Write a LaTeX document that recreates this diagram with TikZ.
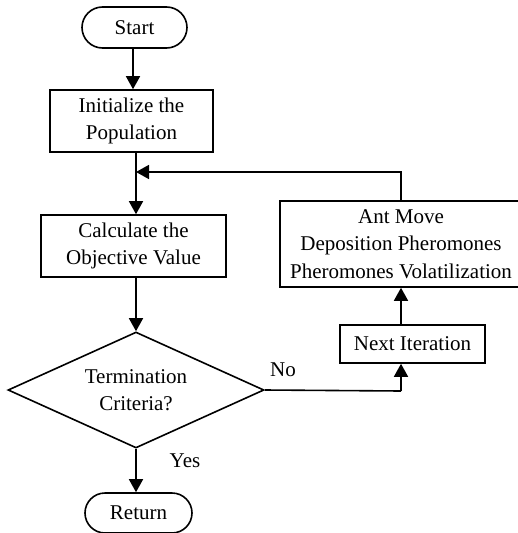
\documentclass[tikz,border=0pt]{standalone}
\usepackage{fontspec}
\setmainfont{Liberation Serif}
\usetikzlibrary{shapes.geometric,shapes.misc,arrows.meta}
\begin{document}
\begin{tikzpicture}[x=1pt,y=-1pt,
  every node/.style={font=\fontsize{21}{27.5}\selectfont, align=center, inner sep=0pt},
  term/.style={draw, line width=1.6pt, rounded rectangle, minimum height=#1},
  proc/.style={draw, line width=1.6pt, rectangle},
  dec/.style={draw, line width=1.6pt, diamond, aspect=2.2},
  conn/.style={line width=1.6pt, -{Triangle[length=13pt,width=14pt]}},
  plain/.style={line width=1.6pt}]
\useasboundingbox (0,0) rectangle (517,533);
\node[term=41pt, minimum width=105pt] (start) at (134.5,27.5) {Start};
\node[proc, minimum width=163pt, minimum height=62pt] (init) at (131.5,121) {Initialize the\\Population};
\node[proc, minimum width=185pt, minimum height=62pt] (calc) at (133.5,246) {Calculate the\\Objective Value};
\node[dec, minimum width=256pt, minimum height=116pt] (term) at (136,390) {Termination\\Criteria?};
\node[term=40pt, minimum width=107pt] (ret) at (138.5,513) {Return};
\node[proc, minimum width=145pt, minimum height=38pt] (next) at (412.5,344) {Next Iteration};
\node[proc, minimum width=242pt, minimum height=86pt] (ant) at (401,244) {Ant Move\\Deposition Pheromones\\Pheromones Volatilization};
\node (yes) at (185,461) {Yes};
\node (no) at (283,370) {No};
\coordinate (tinit) at (136,152);
\coordinate (merge) at (136,172);
\coordinate (corner) at (401,172);
\coordinate (nocorner) at (401,391);
\draw[conn] (start.south -| 133,0) -- (init.north -| 133,0);
\draw[conn] (tinit) -- (calc.north -| tinit);
\draw[conn] (calc.south -| 136,0) -- (term.north);
\draw[conn] (term.south) -- (ret.north -| term.south);
\draw[plain] (term.east) -- (nocorner);
\draw[conn] (nocorner) -- (next.south -| nocorner);
\draw[conn] (next.north -| 401,0) -- (ant.south -| 401,0);
\draw[conn] (ant.north -| corner) -- (corner) -- (merge);
\end{tikzpicture}
\end{document}
